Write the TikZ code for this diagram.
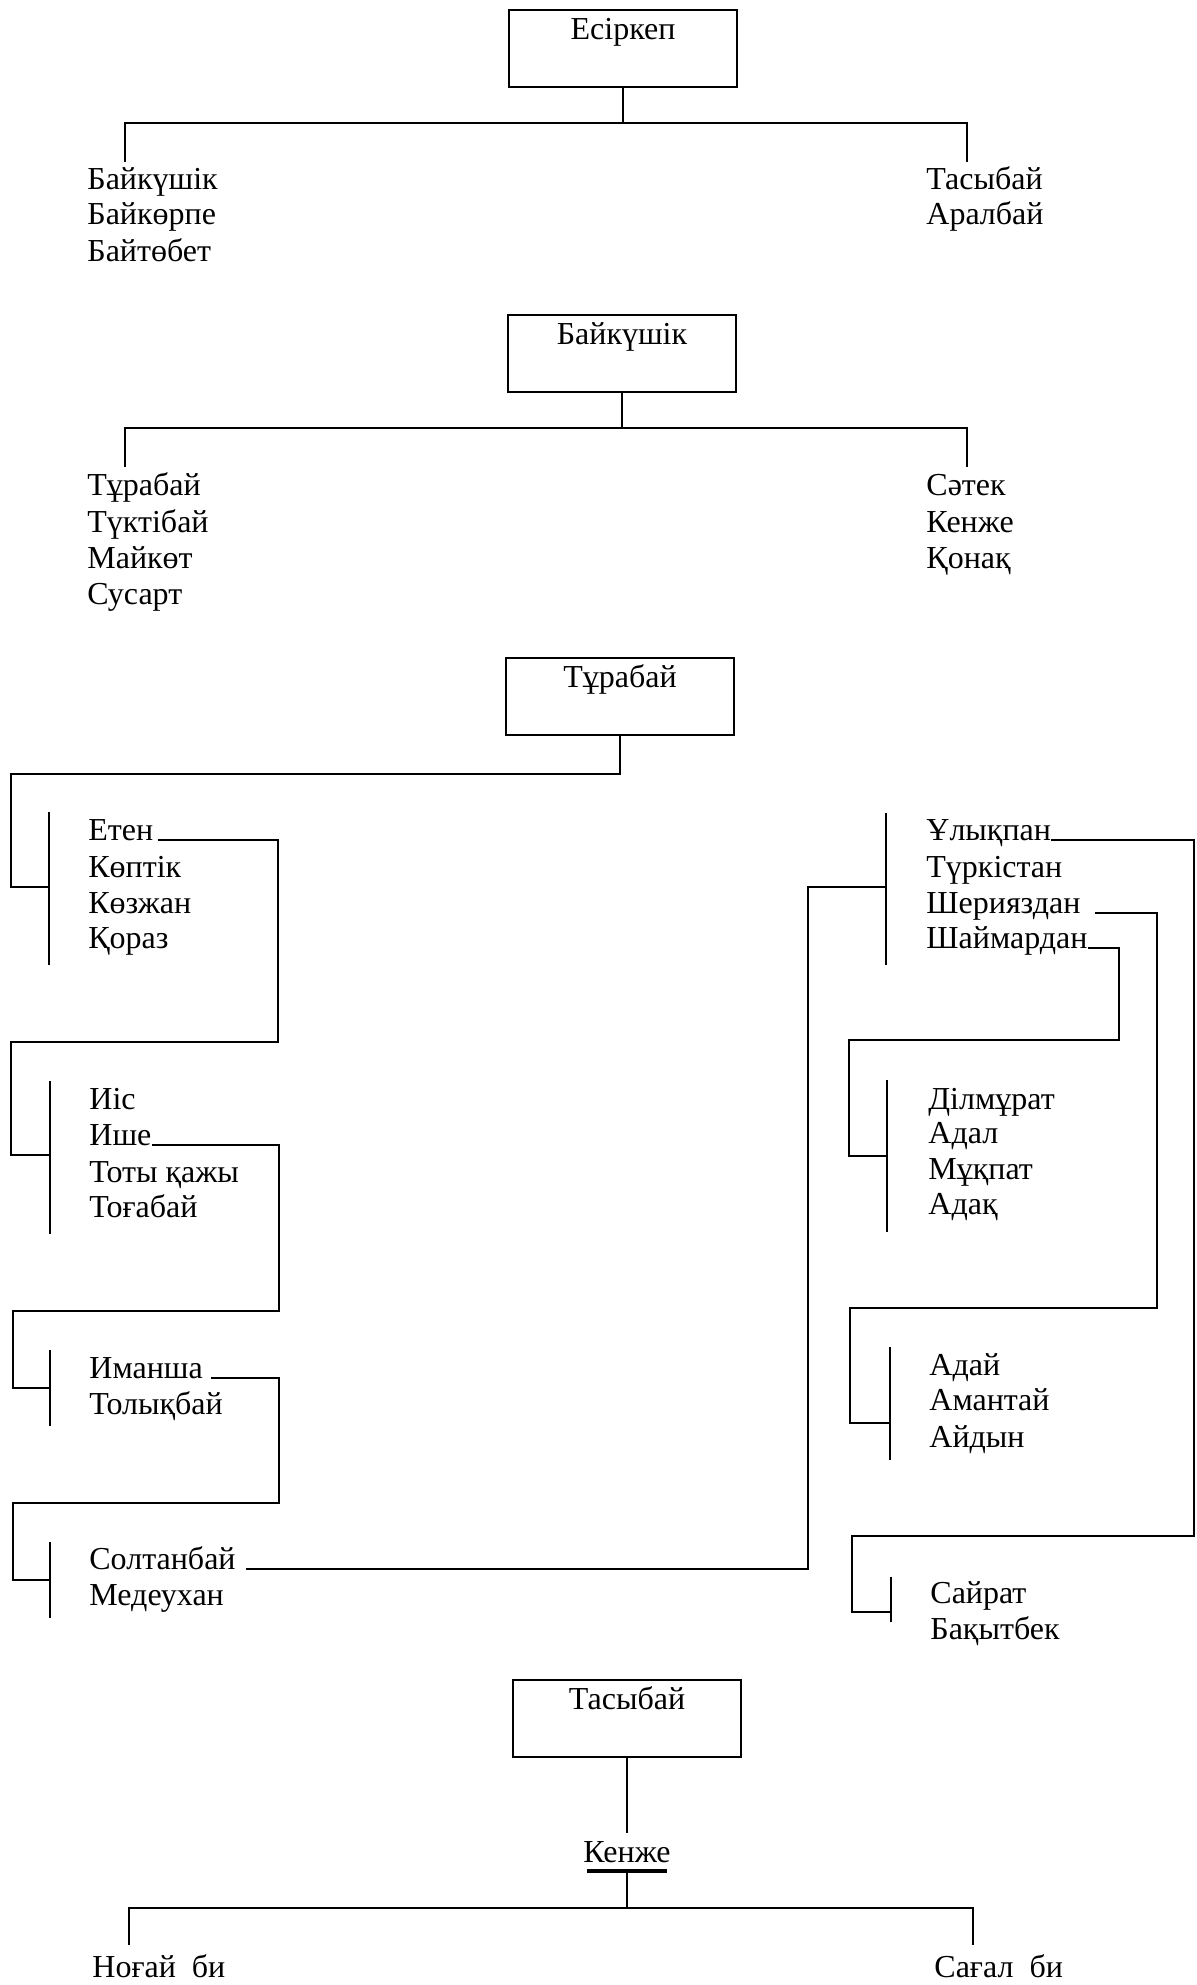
\documentclass[tikz,border=0pt]{standalone}
\usepackage{fontspec}
\setmainfont{Liberation Serif}
\begin{document}
\begin{tikzpicture}[x=0.5pt,y=-0.5pt,
  ln/.style={line width=1pt},
  nm/.style={anchor=base west, inner sep=0pt, font=\fontsize{16}{19}\selectfont},
  bx/.style={draw, line width=1.2pt, anchor=north, minimum width=114pt,
    text height=10.5pt, text depth=20pt, inner ysep=4pt, font=\fontsize{16}{19}\selectfont}]
\useasboundingbox (0,0) rectangle (1196,1985);
\fill[white] (0,0) rectangle (1196,1985);

% ---------- Section 1 ----------
\node[bx] (esirkep) at (623,9) {Есіркеп};
\coordinate (j1) at (623,123);
\coordinate (d1l) at (125,162);
\coordinate (d1r) at (967,162);
\draw[ln] (esirkep.south) -- (j1);
\draw[ln] (d1l) |- (j1) -| (d1r);
\node[nm] (baikushikA) at (87,190) {Байкүшік};
\node[nm] (baikorpe) at (87,225) {Байкөрпе};
\node[nm] (baitobet) at (87,262) {Байтөбет};
\node[nm] (tasybaiA) at (926,190) {Тасыбай};
\node[nm] (aralbai) at (926,225) {Аралбай};

% ---------- Section 2 ----------
\node[bx] (baikushik) at (622,314) {Байкүшік};
\coordinate (j2) at (622,428);
\coordinate (d2l) at (125,467);
\coordinate (d2r) at (967,467);
\draw[ln] (baikushik.south) -- (j2);
\draw[ln] (d2l) |- (j2) -| (d2r);
\node[nm] (turabaiA) at (87,495) {Тұрабай};
\node[nm] (tuktibai) at (87,532) {Түктібай};
\node[nm] (maikot) at (87,568) {Майкөт};
\node[nm] (susart) at (87,604) {Сусарт};
\node[nm] (satek) at (926,495) {Сәтек};
\node[nm] (kenzheA) at (926,532) {Кенже};
\node[nm] (qonaq) at (926,568) {Қонақ};

% ---------- Section 3 ----------
\node[bx] (turabai) at (620,657) {Тұрабай};

% left groups
\node[nm] (eten) at (88,840) {Етен};
\node[nm] (koptik) at (88,877) {Көптік};
\node[nm] (kozzhan) at (88,913) {Көзжан};
\node[nm] (qoraz) at (88,948) {Қораз};

\node[nm] (iis) at (89,1109) {Иіс};
\node[nm] (ishe) at (89,1145) {Ише};
\node[nm] (toty) at (89,1182) {Тоты қажы};
\node[nm] (togabai) at (89,1217) {Тоғабай};

\node[nm] (imansha) at (89,1378) {Иманша};
\node[nm] (tolyqbai) at (89,1414) {Толықбай};

\node[nm] (soltanbai) at (89,1569) {Солтанбай};
\node[nm] (medeukhan) at (89,1605) {Медеухан};

% right groups
\node[nm] (ulyqpan) at (926,840) {Ұлықпан};
\node[nm] (turkistan) at (926,877) {Түркістан};
\node[nm] (sheriyazdan) at (926,913) {Шерияздан};
\node[nm] (shaimardan) at (926,948) {Шаймардан};

\node[nm] (dilmurat) at (928,1109) {Ділмұрат};
\node[nm] (adal) at (928,1143) {Адал};
\node[nm] (muqpat) at (928,1179) {Мұқпат};
\node[nm] (adaq) at (928,1214) {Адақ};

\node[nm] (adai) at (929,1375) {Адай};
\node[nm] (amantai) at (929,1410) {Амантай};
\node[nm] (aidyn) at (929,1447) {Айдын};

\node[nm] (sairat) at (930,1603) {Сайрат};
\node[nm] (baqytbek) at (930,1639) {Бақытбек};

% brackets
\draw[ln] (49,812) -- (49,965);
\draw[ln] (50,1081) -- (50,1234);
\draw[ln] (50,1350) -- (50,1426);
\draw[ln] (50,1542) -- (50,1618);
\draw[ln] (886,813) -- (886,965);
\draw[ln] (887,1080) -- (887,1232);
\draw[ln] (890,1347) -- (890,1460);
\draw[ln] (891,1577) -- (891,1622);

% connectors
\draw[ln] (turabai.south) |- (11,774) -- (11,887) -- (49,887);
\draw[ln] ([xshift=2pt]eten.base east) -| (278,1042) -- (11,1042) -- (11,1155) -- (50,1155);
\draw[ln] ([xshift=0pt]ishe.base east) -| (279,1311) -- (13,1311) -- (13,1388) -- (50,1388);
\draw[ln] ([xshift=4pt]imansha.base east) -| (279,1503) -- (13,1503) -- (13,1580) -- (50,1580);
\draw[ln] ([xshift=5pt]soltanbai.base east) -| (808,887) -- (886,887);
\draw[ln] (ulyqpan.base east) -| (1194,1536) -- (852,1536) -- (852,1612) -- (891,1612);
\draw[ln] ([xshift=7pt]sheriyazdan.base east) -| (1157,1308) -- (850,1308) -- (850,1423) -- (890,1423);
\draw[ln] (shaimardan.base east) -| (1119,1040) -- (849,1040) -- (849,1156) -- (887,1156);

% ---------- Section 4 ----------
\node[bx] (tasybai) at (627,1679) {Тасыбай};
\node[nm, anchor=base] (kenzhe) at (627,1862) {Кенже};
\coordinate (k1) at (627,1833);
\coordinate (k2) at (627,1871);
\coordinate (j4) at (627,1908);
\coordinate (d4l) at (129,1945);
\coordinate (d4r) at (973,1945);
\draw[ln] (tasybai.south) -- (k1);
\draw[line width=1.6pt] ([xshift=2pt,yshift=-4.5pt]kenzhe.base west) -- ([xshift=-2pt,yshift=-4.5pt]kenzhe.base east);
\draw[ln] (k2) -- (j4);
\draw[ln] (d4l) |- (j4) -| (d4r);
\node[nm] (nogai) at (92,1977) {Ноғай\ \ би};
\node[nm] (sagal) at (934,1977) {Сағал\ \ би};
\end{tikzpicture}
\end{document}
